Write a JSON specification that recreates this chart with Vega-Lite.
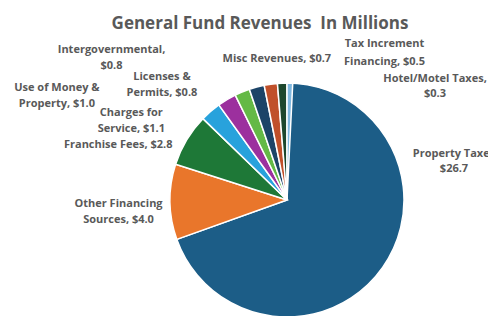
{
  "$schema": "https://vega.github.io/schema/vega-lite/v6.json",
  "width": 400,
  "height": 232,
  "autosize": {"type": "none"},
  "padding": {"left": 87, "top": 84, "right": 1, "bottom": 0},
  "background": "white",
  "title": {"text": "General Fund Revenues \u00a0In Millions", "fontSize": 17, "font": "Open Sans", "fontWeight": "bold", "color": "#595959", "anchor": "middle", "frame": "group", "dx": -27, "offset": 5},
  "data": {"values": [
    {"idx": 1, "category": "Property Taxes", "value": 26.7, "label": "Property Taxes\n$26.7"},
    {"idx": 2, "category": "Other Financing Sources", "value": 4.0, "label": "Other Financing\nSources, $4.0"},
    {"idx": 3, "category": "Franchise Fees", "value": 2.8, "label": "Franchise Fees, $2.8"},
    {"idx": 4, "category": "Charges for Service", "value": 1.1, "label": "Charges for\nService, $1.1"},
    {"idx": 5, "category": "Use of Money & Property", "value": 1.0, "label": "Use of Money &\nProperty, $1.0"},
    {"idx": 6, "category": "Licenses & Permits", "value": 0.8, "label": "Licenses &\nPermits, $0.8"},
    {"idx": 7, "category": "Intergovernmental", "value": 0.8, "label": "Intergovernmental,\n$0.8"},
    {"idx": 8, "category": "Misc Revenues", "value": 0.7, "label": "Misc Revenues, $0.7"},
    {"idx": 9, "category": "Tax Increment Financing", "value": 0.5, "label": "Tax Increment\nFinancing, $0.5"},
    {"idx": 10, "category": "Hotel/Motel Taxes", "value": 0.3, "label": "Hotel/Motel Taxes,\n$0.3"}
  ]},
  "transform": [
    {"stack": "value", "groupby": [], "sort": [{"field": "idx", "order": "ascending"}], "as": ["v0", "v1"]}
  ],
  "layer": [
    {"mark": {"type": "arc", "radius": 117, "stroke": "white", "strokeWidth": 1.5},
     "encoding": {
       "theta": {"field": "v0", "type": "quantitative"},
       "theta2": {"field": "v1"},
       "color": {"field": "category", "type": "nominal", "legend": null,
       "scale": {"domain": ["Property Taxes", "Other Financing Sources", "Franchise Fees", "Charges for Service", "Use of Money & Property", "Licenses & Permits", "Intergovernmental", "Misc Revenues", "Tax Increment Financing", "Hotel/Motel Taxes"],
                 "range": ["#1c5d87", "#e9762b", "#1e7837", "#28a2dc", "#9c309e", "#64b946", "#1c4468", "#c0502a", "#1d472d", "#7fb8e0"]}}}},
    {"transform": [{"filter": "datum.idx === 1"}],
     "mark": {"type": "text", "radius": 129, "dx": 167, "dy": 83, "font": "Open Sans", "fontWeight": "bold", "fontSize": 11, "color": "#595959", "lineBreak": "\n", "lineHeight": 15, "align": "center", "baseline": "middle"},
     "encoding": {"theta": {"field": "v0", "type": "quantitative"}, "text": {"field": "label"}}},
    {"transform": [{"filter": "datum.idx === 2"}],
     "mark": {"type": "text", "radius": 129, "dx": -47, "dy": -39, "font": "Open Sans", "fontWeight": "bold", "fontSize": 11, "color": "#595959", "lineBreak": "\n", "lineHeight": 16, "align": "center", "baseline": "middle"},
     "encoding": {"theta": {"field": "v0", "type": "quantitative"}, "text": {"field": "label"}}},
    {"transform": [{"filter": "datum.idx === 3"}],
     "mark": {"type": "text", "radius": 129, "dx": -46, "dy": -16, "font": "Open Sans", "fontWeight": "bold", "fontSize": 11, "color": "#595959", "lineBreak": "\n", "lineHeight": 16, "align": "center", "baseline": "middle"},
     "encoding": {"theta": {"field": "v0", "type": "quantitative"}, "text": {"field": "label"}}},
    {"transform": [{"filter": "datum.idx === 4"}],
     "mark": {"type": "text", "radius": 129, "dx": -63, "dy": 3, "font": "Open Sans", "fontWeight": "bold", "fontSize": 11, "color": "#595959", "lineBreak": "\n", "lineHeight": 16, "align": "center", "baseline": "middle"},
     "encoding": {"theta": {"field": "v0", "type": "quantitative"}, "text": {"field": "label"}}},
    {"transform": [{"filter": "datum.idx === 5"}],
     "mark": {"type": "text", "radius": 129, "dx": -155, "dy": -7, "font": "Open Sans", "fontWeight": "bold", "fontSize": 11, "color": "#595959", "lineBreak": "\n", "lineHeight": 16, "align": "center", "baseline": "middle"},
     "encoding": {"theta": {"field": "v0", "type": "quantitative"}, "text": {"field": "label"}}},
    {"transform": [{"filter": "datum.idx === 6"}],
     "mark": {"type": "text", "radius": 129, "dx": -68, "dy": -7, "font": "Open Sans", "fontWeight": "bold", "fontSize": 11, "color": "#595959", "lineBreak": "\n", "lineHeight": 16, "align": "center", "baseline": "middle"},
     "encoding": {"theta": {"field": "v0", "type": "quantitative"}, "text": {"field": "label"}}},
    {"transform": [{"filter": "datum.idx === 7"}],
     "mark": {"type": "text", "radius": 129, "dx": -134, "dy": -28, "font": "Open Sans", "fontWeight": "bold", "fontSize": 11, "color": "#595959", "lineBreak": "\n", "lineHeight": 16, "align": "center", "baseline": "middle"},
     "encoding": {"theta": {"field": "v0", "type": "quantitative"}, "text": {"field": "label"}}},
    {"transform": [{"filter": "datum.idx === 8"}],
     "mark": {"type": "text", "radius": 129, "dx": 15, "dy": -14, "font": "Open Sans", "fontWeight": "bold", "fontSize": 11, "color": "#595959", "lineBreak": "\n", "lineHeight": 16, "align": "center", "baseline": "middle"},
     "encoding": {"theta": {"field": "v0", "type": "quantitative"}, "text": {"field": "label"}}},
    {"transform": [{"filter": "datum.idx === 9"}],
     "mark": {"type": "text", "radius": 129, "dx": 108, "dy": -27, "font": "Open Sans", "fontWeight": "bold", "fontSize": 11, "color": "#595959", "lineBreak": "\n", "lineHeight": 18, "align": "center", "baseline": "middle"},
     "encoding": {"theta": {"field": "v0", "type": "quantitative"}, "text": {"field": "label"}}},
    {"transform": [{"filter": "datum.idx === 10"}],
     "mark": {"type": "text", "radius": 129, "dx": 148, "dy": 8, "font": "Open Sans", "fontWeight": "bold", "fontSize": 11, "color": "#595959", "lineBreak": "\n", "lineHeight": 15, "align": "center", "baseline": "middle"},
     "encoding": {"theta": {"field": "v0", "type": "quantitative"}, "text": {"field": "label"}}}
  ],
  "config": {"view": {"stroke": null}}
}
